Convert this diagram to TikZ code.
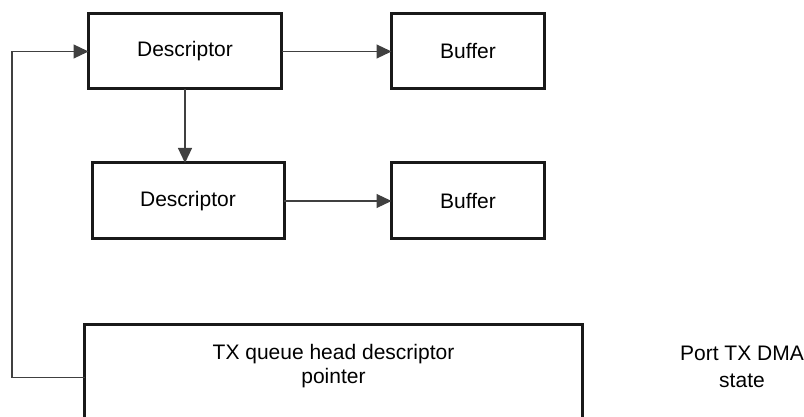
\documentclass[tikz,border=0pt]{standalone}
\usepackage{fontspec}
\setmainfont{Liberation Sans}
\usetikzlibrary{arrows.meta}
\begin{document}
\begin{tikzpicture}[x=1pt,y=-1pt,
  box/.style={draw=black!90,line width=3pt,fill=white,inner sep=0pt,outer sep=0pt,font=\fontsize{21}{25}\selectfont},
  conn/.style={draw=black!75,line width=1.2pt,-{Triangle[length=15pt,width=14pt]}},
  lbl/.style={align=center,inner sep=0pt,font=\fontsize{21}{27}\selectfont}]
\useasboundingbox (0,0) rectangle (804,417);
\clip (0,0) rectangle (804,417);
\node[box,minimum width=193pt,minimum height=75pt] (d1) at (185,51.5) {Descriptor};
\node[box,minimum width=153pt,minimum height=75pt] (b1) at (468,51.5) {Buffer};
\node[box,minimum width=192pt,minimum height=76pt] (d2) at (188,201) {Descriptor};
\node[box,minimum width=153pt,minimum height=76pt] (b2) at (468,201) {Buffer};
\node[box,minimum width=498pt,minimum height=126pt] (q) at (333.5,387.5) {};
\node[lbl,font=\fontsize{21}{24}\selectfont] (qt) at (333.5,366) {TX queue head descriptor\\pointer};
\node[lbl] (pt) at (742,367) {Port TX DMA\\state};
\coordinate (lp) at (12,51.5);
\draw[conn] (d1) -- (b1);
\draw[conn] (d2) -- (b2);
\draw[conn] (d1.south) -- (d1.south |- d2.north);
\draw[conn] ([yshift=10pt]q.west) -| (lp) -- (d1.west);
\end{tikzpicture}
\end{document}
